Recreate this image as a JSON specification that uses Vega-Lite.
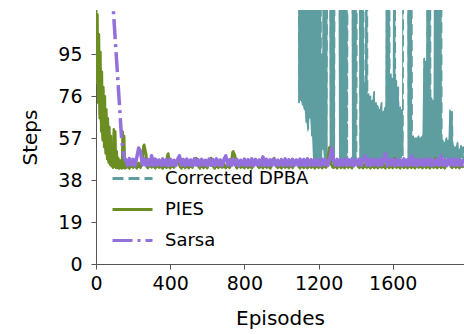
{
"$schema": "https://vega.github.io/schema/vega-lite/v6.json",
"width": 368, "height": 254,
"autosize": "none",
"padding": {"left": 96, "top": 10, "right": 0, "bottom": 70},
"background": "white",
"config": {
 "view": {"stroke": null},
 "font": "DejaVu Sans",
 "line": {"strokeJoin": "round"},
 "axis": {"grid": false, "domainColor": "#555", "tickColor": "#555", "tickSize": 5, "labelFontSize": 19, "labelColor": "#000", "titleFontSize": 20, "titleFontWeight": "normal", "titleColor": "#000", "labelFlush": false, "labelBound": false, "labelFont": "DejaVu Sans", "titleFont": "DejaVu Sans"},
 "legend": {"orient": "none", "legendX": 15, "legendY": 147, "title": null, "symbolType": "stroke", "symbolSize": 1600, "symbolStrokeWidth": 3, "labelFontSize": 18, "labelOffset": 11, "rowPadding": -12.5, "labelFont": "DejaVu Sans", "labelColor": "#000", "padding": 0}
},
"datasets": {
 "dpba": [
{"x":1090,"Corrected DPBA":250},{"x":1095,"Corrected DPBA":73},{"x":1100,"Corrected DPBA":250},{"x":1105,"Corrected DPBA":74},{"x":1110,"Corrected DPBA":250},{"x":1115,"Corrected DPBA":72},{"x":1120,"Corrected DPBA":250},{"x":1125,"Corrected DPBA":70},{"x":1130,"Corrected DPBA":250},{"x":1135,"Corrected DPBA":64},{"x":1140,"Corrected DPBA":250},{"x":1145,"Corrected DPBA":60},{"x":1150,"Corrected DPBA":250},{"x":1155,"Corrected DPBA":66},{"x":1160,"Corrected DPBA":250},{"x":1165,"Corrected DPBA":58},{"x":1170,"Corrected DPBA":250},{"x":1175,"Corrected DPBA":47},{"x":1180,"Corrected DPBA":250},{"x":1185,"Corrected DPBA":46},{"x":1190,"Corrected DPBA":250},{"x":1195,"Corrected DPBA":47},{"x":1200,"Corrected DPBA":250},{"x":1205,"Corrected DPBA":46},{"x":1210,"Corrected DPBA":250},{"x":1215,"Corrected DPBA":46},{"x":1220,"Corrected DPBA":95},{"x":1225,"Corrected DPBA":52},{"x":1230,"Corrected DPBA":250},{"x":1235,"Corrected DPBA":46},{"x":1240,"Corrected DPBA":250},{"x":1245,"Corrected DPBA":47},{"x":1250,"Corrected DPBA":250},{"x":1255,"Corrected DPBA":250},{"x":1260,"Corrected DPBA":250},{"x":1265,"Corrected DPBA":46},{"x":1270,"Corrected DPBA":250},{"x":1275,"Corrected DPBA":46},{"x":1280,"Corrected DPBA":250},{"x":1285,"Corrected DPBA":47},{"x":1290,"Corrected DPBA":250},{"x":1295,"Corrected DPBA":250},{"x":1300,"Corrected DPBA":250},{"x":1305,"Corrected DPBA":250},{"x":1310,"Corrected DPBA":250},{"x":1315,"Corrected DPBA":46},{"x":1320,"Corrected DPBA":250},{"x":1325,"Corrected DPBA":46},{"x":1330,"Corrected DPBA":250},{"x":1335,"Corrected DPBA":47},{"x":1340,"Corrected DPBA":250},{"x":1345,"Corrected DPBA":46},{"x":1350,"Corrected DPBA":250},{"x":1355,"Corrected DPBA":46},{"x":1360,"Corrected DPBA":250},{"x":1365,"Corrected DPBA":250},{"x":1370,"Corrected DPBA":250},{"x":1375,"Corrected DPBA":250},{"x":1380,"Corrected DPBA":250},{"x":1385,"Corrected DPBA":46},{"x":1390,"Corrected DPBA":250},{"x":1395,"Corrected DPBA":47},{"x":1400,"Corrected DPBA":250},{"x":1405,"Corrected DPBA":46},{"x":1410,"Corrected DPBA":250},{"x":1415,"Corrected DPBA":250},{"x":1420,"Corrected DPBA":250},{"x":1425,"Corrected DPBA":46},{"x":1430,"Corrected DPBA":250},{"x":1435,"Corrected DPBA":46},{"x":1440,"Corrected DPBA":250},{"x":1445,"Corrected DPBA":47},{"x":1450,"Corrected DPBA":82},{"x":1455,"Corrected DPBA":47},{"x":1460,"Corrected DPBA":250},{"x":1465,"Corrected DPBA":47},{"x":1470,"Corrected DPBA":77},{"x":1475,"Corrected DPBA":46},{"x":1480,"Corrected DPBA":76},{"x":1485,"Corrected DPBA":47},{"x":1490,"Corrected DPBA":74},{"x":1495,"Corrected DPBA":46},{"x":1500,"Corrected DPBA":78},{"x":1505,"Corrected DPBA":47},{"x":1510,"Corrected DPBA":73},{"x":1515,"Corrected DPBA":46},{"x":1520,"Corrected DPBA":72},{"x":1525,"Corrected DPBA":47},{"x":1530,"Corrected DPBA":70},{"x":1535,"Corrected DPBA":46},{"x":1540,"Corrected DPBA":73},{"x":1545,"Corrected DPBA":47},{"x":1550,"Corrected DPBA":69},{"x":1555,"Corrected DPBA":46},{"x":1560,"Corrected DPBA":71},{"x":1565,"Corrected DPBA":47},{"x":1570,"Corrected DPBA":250},{"x":1575,"Corrected DPBA":46},{"x":1580,"Corrected DPBA":250},{"x":1585,"Corrected DPBA":46},{"x":1590,"Corrected DPBA":86},{"x":1595,"Corrected DPBA":47},{"x":1600,"Corrected DPBA":84},{"x":1605,"Corrected DPBA":48},{"x":1610,"Corrected DPBA":250},{"x":1615,"Corrected DPBA":46},{"x":1620,"Corrected DPBA":83},{"x":1625,"Corrected DPBA":47},{"x":1630,"Corrected DPBA":80},{"x":1635,"Corrected DPBA":47},{"x":1640,"Corrected DPBA":71},{"x":1645,"Corrected DPBA":48},{"x":1650,"Corrected DPBA":70},{"x":1655,"Corrected DPBA":49},{"x":1660,"Corrected DPBA":250},{"x":1665,"Corrected DPBA":250},{"x":1670,"Corrected DPBA":250},{"x":1675,"Corrected DPBA":250},{"x":1680,"Corrected DPBA":250},{"x":1685,"Corrected DPBA":47},{"x":1690,"Corrected DPBA":250},{"x":1695,"Corrected DPBA":46},{"x":1700,"Corrected DPBA":250},{"x":1705,"Corrected DPBA":47},{"x":1710,"Corrected DPBA":58},{"x":1715,"Corrected DPBA":48},{"x":1720,"Corrected DPBA":57},{"x":1725,"Corrected DPBA":47},{"x":1730,"Corrected DPBA":57},{"x":1735,"Corrected DPBA":47},{"x":1740,"Corrected DPBA":58},{"x":1745,"Corrected DPBA":46},{"x":1750,"Corrected DPBA":57},{"x":1755,"Corrected DPBA":47},{"x":1760,"Corrected DPBA":58},{"x":1765,"Corrected DPBA":47},{"x":1770,"Corrected DPBA":93},{"x":1775,"Corrected DPBA":47},{"x":1780,"Corrected DPBA":92},{"x":1785,"Corrected DPBA":46},{"x":1790,"Corrected DPBA":250},{"x":1795,"Corrected DPBA":47},{"x":1800,"Corrected DPBA":250},{"x":1805,"Corrected DPBA":46},{"x":1810,"Corrected DPBA":75},{"x":1815,"Corrected DPBA":47},{"x":1820,"Corrected DPBA":74},{"x":1825,"Corrected DPBA":46},{"x":1830,"Corrected DPBA":250},{"x":1835,"Corrected DPBA":47},{"x":1840,"Corrected DPBA":250},{"x":1845,"Corrected DPBA":46},{"x":1850,"Corrected DPBA":250},{"x":1855,"Corrected DPBA":47},{"x":1860,"Corrected DPBA":250},{"x":1865,"Corrected DPBA":48},{"x":1870,"Corrected DPBA":56},{"x":1875,"Corrected DPBA":48},{"x":1880,"Corrected DPBA":55},{"x":1885,"Corrected DPBA":47},{"x":1890,"Corrected DPBA":57},{"x":1895,"Corrected DPBA":48},{"x":1900,"Corrected DPBA":56},{"x":1905,"Corrected DPBA":47},{"x":1910,"Corrected DPBA":70},{"x":1915,"Corrected DPBA":47},{"x":1920,"Corrected DPBA":69},{"x":1925,"Corrected DPBA":48},{"x":1930,"Corrected DPBA":54},{"x":1935,"Corrected DPBA":47},{"x":1940,"Corrected DPBA":53},{"x":1945,"Corrected DPBA":48},{"x":1950,"Corrected DPBA":55},{"x":1955,"Corrected DPBA":47},{"x":1960,"Corrected DPBA":52},{"x":1965,"Corrected DPBA":47},{"x":1970,"Corrected DPBA":54},{"x":1975,"Corrected DPBA":48},{"x":1980,"Corrected DPBA":53},{"x":1985,"Corrected DPBA":47}
 ],
 "ps": [
{"x":0,"PIES":125,"Sarsa":260},{"x":4,"PIES":82},{"x":8,"PIES":113},{"x":12,"PIES":73},{"x":16,"PIES":104},{"x":20,"PIES":66},{"x":24,"PIES":96},{"x":28,"PIES":60},{"x":32,"PIES":87},{"x":36,"PIES":56},{"x":40,"PIES":80,"Sarsa":210},{"x":44,"PIES":53},{"x":48,"PIES":76},{"x":52,"PIES":50},{"x":56,"PIES":70},{"x":60,"PIES":47.5},{"x":64,"PIES":66},{"x":68,"PIES":46},{"x":70,"Sarsa":160},{"x":72,"PIES":62},{"x":76,"PIES":45},{"x":80,"PIES":58},{"x":84,"PIES":44.3},{"x":85,"Sarsa":130},{"x":88,"PIES":54},{"x":92,"PIES":43.6},{"x":95,"Sarsa":113},{"x":96,"PIES":61},{"x":100,"PIES":44},{"x":104,"PIES":60},{"x":105,"Sarsa":100},{"x":108,"PIES":43.5},{"x":112,"PIES":51},{"x":115,"Sarsa":87},{"x":116,"PIES":43.6},{"x":120,"PIES":48},{"x":124,"PIES":43.2},{"x":125,"Sarsa":74},{"x":128,"PIES":47},{"x":131,"Sarsa":66},{"x":132,"PIES":43.5},{"x":136,"PIES":46.5},{"x":137,"Sarsa":58},{"x":140,"PIES":43.2},{"x":143,"Sarsa":53},{"x":144,"PIES":60},{"x":148,"PIES":43.6},{"x":149,"Sarsa":49.5},{"x":152,"PIES":58},{"x":155,"Sarsa":47.5},{"x":156,"PIES":43.3},
{"x":160,"PIES":43.5,"Sarsa":47.2},{"x":170,"PIES":45.3,"Sarsa":44.6},{"x":180,"PIES":43.2,"Sarsa":47.8},{"x":190,"PIES":45.6,"Sarsa":44.9},{"x":200,"PIES":43.6,"Sarsa":47.4},{"x":210,"PIES":45.1,"Sarsa":44.5},{"x":220,"PIES":43.3,"Sarsa":48.3},{"x":230,"PIES":45.8,"Sarsa":52.5},{"x":240,"PIES":43.5,"Sarsa":51},{"x":250,"PIES":46,"Sarsa":44.8},{"x":260,"PIES":54,"Sarsa":47.6},{"x":270,"PIES":50,"Sarsa":44.6},{"x":280,"PIES":43.4,"Sarsa":47.3},{"x":290,"PIES":45.4,"Sarsa":44.7},{"x":300,"PIES":43.7,"Sarsa":49},{"x":310,"PIES":45.2,"Sarsa":44.5},{"x":320,"PIES":43.3,"Sarsa":47.5},{"x":330,"PIES":45.5,"Sarsa":44.9},{"x":340,"PIES":43.6,"Sarsa":47.1},{"x":350,"PIES":45.2,"Sarsa":44.6},{"x":360,"PIES":43.2,"Sarsa":47.6},{"x":370,"PIES":45.7,"Sarsa":44.8},{"x":380,"PIES":43.5,"Sarsa":47.2},{"x":390,"PIES":50,"Sarsa":44.5},{"x":400,"PIES":43.4,"Sarsa":47.5},{"x":410,"PIES":45.3,"Sarsa":44.7},{"x":420,"PIES":43.6,"Sarsa":47.0},{"x":430,"PIES":45.1,"Sarsa":44.6},{"x":440,"PIES":46.5,"Sarsa":47.4},{"x":450,"PIES":45.2,"Sarsa":49},{"x":460,"PIES":43.3,"Sarsa":44.8},{"x":470,"PIES":45.5,"Sarsa":47.3},{"x":480,"PIES":43.5,"Sarsa":44.6},{"x":490,"PIES":45.2,"Sarsa":47.5},{"x":500,"PIES":43.4,"Sarsa":44.7},{"x":510,"PIES":45.4,"Sarsa":47.1},{"x":520,"PIES":43.6,"Sarsa":44.5},{"x":530,"PIES":45.3,"Sarsa":47.6},{"x":540,"PIES":48,"Sarsa":44.8},{"x":550,"PIES":45.1,"Sarsa":47.2},{"x":560,"PIES":43.3,"Sarsa":44.6},{"x":570,"PIES":45.5,"Sarsa":47.4},{"x":580,"PIES":43.5,"Sarsa":44.9},{"x":590,"PIES":45.2,"Sarsa":47.0},{"x":600,"PIES":43.4,"Sarsa":44.5},{"x":610,"PIES":45.3,"Sarsa":47.5},{"x":620,"PIES":48,"Sarsa":44.7},{"x":630,"PIES":45.4,"Sarsa":47.3},{"x":640,"PIES":43.2,"Sarsa":44.6},{"x":650,"PIES":45.6,"Sarsa":47.6},{"x":660,"PIES":43.5,"Sarsa":44.8},{"x":670,"PIES":45.2,"Sarsa":47.1},{"x":680,"PIES":43.6,"Sarsa":44.5},{"x":690,"PIES":45.3,"Sarsa":47.4},{"x":700,"PIES":43.4,"Sarsa":49},{"x":710,"PIES":45.1,"Sarsa":44.7},{"x":720,"PIES":43.5,"Sarsa":47.2},{"x":730,"PIES":45.4,"Sarsa":44.6},{"x":740,"PIES":51,"Sarsa":47.5},{"x":750,"PIES":49,"Sarsa":44.8},{"x":760,"PIES":43.3,"Sarsa":47.3},{"x":770,"PIES":45.5,"Sarsa":44.5},{"x":780,"PIES":43.6,"Sarsa":47.0},{"x":790,"PIES":45.2,"Sarsa":44.9},{"x":800,"PIES":43.4,"Sarsa":47.5},{"x":810,"PIES":45.3,"Sarsa":44.6},{"x":820,"PIES":43.5,"Sarsa":47.2},{"x":830,"PIES":45.6,"Sarsa":44.7},{"x":840,"PIES":43.3,"Sarsa":47.6},{"x":850,"PIES":45.2,"Sarsa":44.5},{"x":860,"PIES":47.5,"Sarsa":47.3},{"x":870,"PIES":45.4,"Sarsa":44.8},{"x":880,"PIES":43.5,"Sarsa":47.1},{"x":890,"PIES":45.1,"Sarsa":44.6},{"x":900,"PIES":43.4,"Sarsa":48.5},{"x":910,"PIES":45.3,"Sarsa":44.7},{"x":920,"PIES":43.6,"Sarsa":47.4},{"x":930,"PIES":45.5,"Sarsa":44.5},{"x":940,"PIES":43.2,"Sarsa":47.2},{"x":950,"PIES":45.2,"Sarsa":44.8},{"x":960,"PIES":48,"Sarsa":47.5},{"x":970,"PIES":45.4,"Sarsa":44.6},{"x":980,"PIES":43.5,"Sarsa":47.0},{"x":990,"PIES":45.3,"Sarsa":44.9},{"x":1000,"PIES":43.3,"Sarsa":47.3},{"x":1010,"PIES":45.2,"Sarsa":44.6},{"x":1020,"PIES":43.6,"Sarsa":47.6},{"x":1030,"PIES":45.5,"Sarsa":44.7},{"x":1040,"PIES":43.4,"Sarsa":47.2},{"x":1050,"PIES":45.1,"Sarsa":44.5},{"x":1060,"PIES":43.5,"Sarsa":47.4},{"x":1070,"PIES":45.4,"Sarsa":44.8},{"x":1080,"PIES":47,"Sarsa":47.1},{"x":1090,"PIES":45.3,"Sarsa":44.6},{"x":1100,"PIES":43.3,"Sarsa":47.5},{"x":1110,"PIES":45.6,"Sarsa":44.7},{"x":1120,"PIES":43.5,"Sarsa":47.3},{"x":1130,"PIES":45.2,"Sarsa":44.5},{"x":1140,"PIES":43.4,"Sarsa":47.6},{"x":1150,"PIES":45.3,"Sarsa":44.8},{"x":1160,"PIES":43.6,"Sarsa":47.2},{"x":1170,"PIES":45.1,"Sarsa":44.6},{"x":1180,"PIES":43.3,"Sarsa":47.4},{"x":1190,"PIES":45.5,"Sarsa":44.7},{"x":1200,"PIES":43.5,"Sarsa":47.0},{"x":1210,"PIES":45.2,"Sarsa":44.5},{"x":1220,"PIES":43.4,"Sarsa":47.5},{"x":1230,"PIES":45.4,"Sarsa":44.9},{"x":1240,"PIES":43.6,"Sarsa":47.3},{"x":1250,"PIES":45.3,"Sarsa":44.6},{"x":1260,"PIES":53,"Sarsa":47.6},{"x":1270,"PIES":45.2,"Sarsa":52.5},{"x":1280,"PIES":43.5,"Sarsa":47.2},{"x":1290,"PIES":45.5,"Sarsa":44.7},{"x":1300,"PIES":43.3,"Sarsa":47.4},{"x":1310,"PIES":45.1,"Sarsa":44.5},{"x":1320,"PIES":43.5,"Sarsa":47.1},{"x":1330,"PIES":45.4,"Sarsa":44.8},{"x":1340,"PIES":43.4,"Sarsa":47.5},{"x":1350,"PIES":45.3,"Sarsa":44.6},{"x":1360,"PIES":43.6,"Sarsa":47.3},{"x":1370,"PIES":45.2,"Sarsa":44.7},{"x":1380,"PIES":43.3,"Sarsa":47.6},{"x":1390,"PIES":45.6,"Sarsa":44.5},{"x":1400,"PIES":47,"Sarsa":47.2},{"x":1410,"PIES":45.3,"Sarsa":44.8},{"x":1420,"PIES":43.5,"Sarsa":47.4},{"x":1430,"PIES":45.1,"Sarsa":44.6},{"x":1440,"PIES":43.4,"Sarsa":47.0},{"x":1450,"PIES":45.4,"Sarsa":49},{"x":1460,"PIES":43.6,"Sarsa":44.7},{"x":1470,"PIES":45.2,"Sarsa":47.5},{"x":1480,"PIES":43.3,"Sarsa":44.5},{"x":1490,"PIES":45.5,"Sarsa":47.3},{"x":1500,"PIES":43.5,"Sarsa":44.9},{"x":1510,"PIES":45.3,"Sarsa":47.2},{"x":1520,"PIES":43.4,"Sarsa":44.6},{"x":1530,"PIES":45.2,"Sarsa":47.6},{"x":1540,"PIES":43.6,"Sarsa":44.7},{"x":1550,"PIES":45.4,"Sarsa":47.4},{"x":1560,"PIES":43.3,"Sarsa":50},{"x":1570,"PIES":45.1,"Sarsa":44.5},{"x":1580,"PIES":43.5,"Sarsa":47.2},{"x":1590,"PIES":45.5,"Sarsa":44.8},{"x":1600,"PIES":43.4,"Sarsa":47.5},{"x":1610,"PIES":48,"Sarsa":44.6},{"x":1620,"PIES":43.6,"Sarsa":47.3},{"x":1630,"PIES":45.2,"Sarsa":44.7},{"x":1640,"PIES":43.3,"Sarsa":47.1},{"x":1650,"PIES":45.4,"Sarsa":44.5},{"x":1660,"PIES":43.5,"Sarsa":47.6},{"x":1670,"PIES":45.3,"Sarsa":44.8},{"x":1680,"PIES":43.4,"Sarsa":47.2},{"x":1690,"PIES":45.6,"Sarsa":44.6},{"x":1700,"PIES":43.5,"Sarsa":49},{"x":1710,"PIES":45.2,"Sarsa":44.7},{"x":1720,"PIES":43.3,"Sarsa":47.4},{"x":1730,"PIES":45.5,"Sarsa":44.5},{"x":1740,"PIES":43.6,"Sarsa":47.2},{"x":1750,"PIES":45.1,"Sarsa":44.9},{"x":1760,"PIES":43.4,"Sarsa":47.5},{"x":1770,"PIES":45.3,"Sarsa":44.6},{"x":1780,"PIES":43.5,"Sarsa":47.3},{"x":1790,"PIES":45.4,"Sarsa":44.7},{"x":1800,"PIES":43.3,"Sarsa":47.6},{"x":1810,"PIES":45.2,"Sarsa":44.5},{"x":1820,"PIES":43.6,"Sarsa":47.1},{"x":1830,"PIES":48,"Sarsa":44.8},{"x":1840,"PIES":43.4,"Sarsa":47.4},{"x":1850,"PIES":45.5,"Sarsa":44.6},{"x":1860,"PIES":43.5,"Sarsa":49},{"x":1870,"PIES":45.3,"Sarsa":44.7},{"x":1880,"PIES":43.3,"Sarsa":47.2},{"x":1890,"PIES":45.2,"Sarsa":44.5},{"x":1900,"PIES":47,"Sarsa":47.5},{"x":1910,"PIES":45.4,"Sarsa":44.8},{"x":1920,"PIES":43.5,"Sarsa":47.3},{"x":1930,"PIES":45.1,"Sarsa":44.6},{"x":1940,"PIES":43.6,"Sarsa":47.6},{"x":1950,"PIES":45.3,"Sarsa":44.7},{"x":1960,"PIES":43.4,"Sarsa":47.2},{"x":1970,"PIES":45.5,"Sarsa":44.5},{"x":1980,"PIES":43.5,"Sarsa":47.4}
 ]
},
"encoding": {
 "x": {"field": "x", "type": "quantitative", "title": "Episodes", "scale": {"domain": [0, 1984], "nice": false, "zero": false},
  "axis": {"values": [0, 400, 800, 1200, 1600], "format": "d", "labelPadding": 5, "titleBaseline": "alphabetic", "titleY": 60}}
},
"layer": [
 {"data": {"name": "dpba"}, "transform": [{"fold": ["Corrected DPBA"], "as": ["series", "y"]}, {"window": [{"op": "min", "field": "y", "as": "lo"}, {"op": "max", "field": "y", "as": "hi"}], "frame": [0, 1], "sort": [{"field": "x"}]}],
  "mark": {"type": "area", "clip": true, "color": "#5f9ea0"},
  "encoding": {"y": {"field": "lo", "type": "quantitative", "title": "Steps", "scale": {"domain": [0, 115], "nice": false}, "axis": {"values": [0, 19, 38, 57, 76, 95], "labelPadding": 9, "titlePadding": 17}}, "y2": {"field": "hi"}}},
 {"data": {"name": "dpba"}, "transform": [{"fold": ["Corrected DPBA"], "as": ["series", "y"]}],
  "mark": {"type": "line", "clip": true, "strokeWidth": 1.5},
  "encoding": {
   "y": {"field": "y", "type": "quantitative", "title": "Steps", "scale": {"domain": [0, 115], "nice": false}},
   "color": {"field": "series", "type": "nominal", "scale": {"domain": ["Corrected DPBA", "PIES", "Sarsa"], "range": ["#5f9ea0", "#6b8e23", "#9370db"]}},
   "strokeDash": {"field": "series", "type": "nominal", "scale": {"domain": ["Corrected DPBA", "PIES", "Sarsa"], "range": [[11, 5], [1, 0], [20, 5, 3, 5]]}}}},
 {"data": {"name": "ps"}, "transform": [{"fold": ["PIES"], "as": ["series", "y"]}, {"filter": "isValid(datum.y)"}, {"window": [{"op": "min", "field": "y", "as": "lo"}, {"op": "max", "field": "y", "as": "hi"}], "frame": [0, 1], "sort": [{"field": "x"}]}],
  "mark": {"type": "area", "clip": true, "color": "#6b8e23"},
  "encoding": {"y": {"field": "lo", "type": "quantitative", "title": "Steps", "scale": {"domain": [0, 115], "nice": false}}, "y2": {"field": "hi"}}},
 {"data": {"name": "ps"}, "transform": [{"fold": ["PIES"], "as": ["series", "y"]}, {"filter": "isValid(datum.y)"}],
  "mark": {"type": "line", "clip": true, "strokeWidth": 2.5},
  "encoding": {
   "y": {"field": "y", "type": "quantitative", "title": "Steps", "scale": {"domain": [0, 115], "nice": false}},
   "color": {"field": "series", "type": "nominal", "scale": {"domain": ["Corrected DPBA", "PIES", "Sarsa"], "range": ["#5f9ea0", "#6b8e23", "#9370db"]}},
   "strokeDash": {"field": "series", "type": "nominal", "scale": {"domain": ["Corrected DPBA", "PIES", "Sarsa"], "range": [[11, 5], [1, 0], [20, 5, 3, 5]]}}}},
 {"data": {"name": "ps"}, "transform": [{"fold": ["Sarsa"], "as": ["series", "y"]}, {"filter": "isValid(datum.y) && datum.x >= 150"}],
  "mark": {"type": "line", "clip": true, "strokeWidth": 3.5, "color": "#9370db"},
  "encoding": {"y": {"field": "y", "type": "quantitative", "title": "Steps", "scale": {"domain": [0, 115], "nice": false}}}},
 {"data": {"name": "ps"}, "transform": [{"fold": ["Sarsa"], "as": ["series", "y"]}, {"filter": "isValid(datum.y) && datum.x <= 160"}],
  "mark": {"type": "line", "clip": true, "strokeWidth": 3.5},
  "encoding": {
   "y": {"field": "y", "type": "quantitative", "title": "Steps", "scale": {"domain": [0, 115], "nice": false}},
   "color": {"field": "series", "type": "nominal", "scale": {"domain": ["Corrected DPBA", "PIES", "Sarsa"], "range": ["#5f9ea0", "#6b8e23", "#9370db"]}},
   "strokeDash": {"field": "series", "type": "nominal", "scale": {"domain": ["Corrected DPBA", "PIES", "Sarsa"], "range": [[11, 5], [1, 0], [20, 5, 3, 5]]}}}}
]
}
